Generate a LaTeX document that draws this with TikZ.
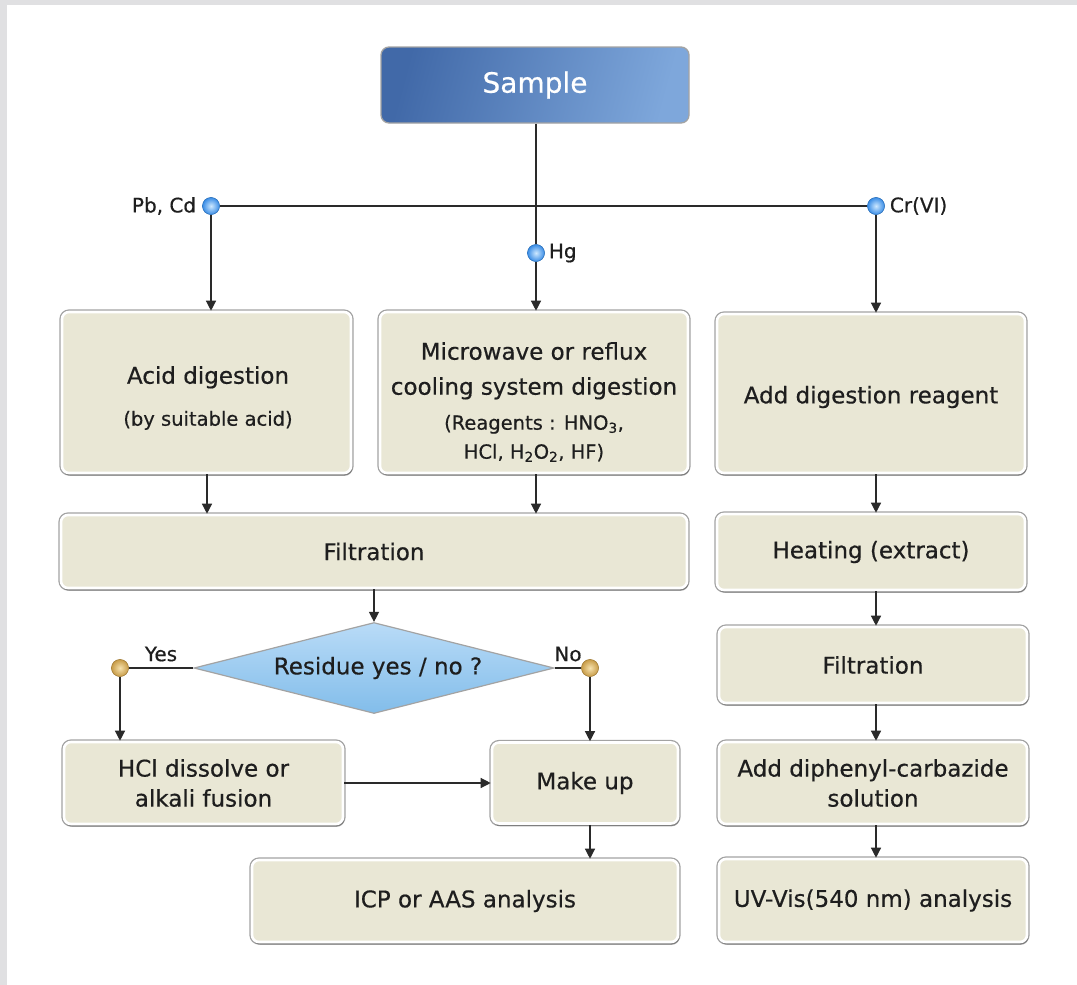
\documentclass[tikz,border=0pt]{standalone}
\usepackage{fontspec}
\setmainfont{DejaVu Sans}[FakeBold=0.5]
\usetikzlibrary{arrows.meta,shapes.geometric,shadows,calc}
\definecolor{boxfill}{HTML}{E9E7D5}
\definecolor{boxedge}{HTML}{A3A3A3}
\definecolor{txt}{HTML}{1E1E1E}
\definecolor{lin}{HTML}{2A2A2A}
\definecolor{bgray}{HTML}{E0E0E2}
\definecolor{sdark}{HTML}{4169A8}
\definecolor{slight}{HTML}{7EA7DB}
\definecolor{dbin}{HTML}{CDE8FF}
\definecolor{dbout}{HTML}{3A8DE6}
\definecolor{dgin}{HTML}{F6E2AE}
\definecolor{dgout}{HTML}{C89C48}
\definecolor{diatop}{HTML}{B9DBF7}
\definecolor{diabot}{HTML}{82BDEA}
\newcommand\fmain{\fontsize{23}{35}\selectfont}
\newcommand\fsmall{\fontsize{19.5}{30}\selectfont}
\newcommand\flab{\fontsize{20}{24}\selectfont}
\tikzset{
  box/.style={rectangle, rounded corners=7pt, fill=boxfill, draw=white, line width=2.6pt,
    preaction={draw=boxedge, line width=5.2pt, rounded corners=7pt},
    drop shadow={shadow xshift=1.2pt, shadow yshift=-2.8pt, opacity=.22, fill=black},
    align=center, font=\fmain, text=txt, inner sep=2pt},
  boxtext/.style={align=center, font=\fmain, text=txt, inner sep=0pt},
  conn/.style={draw=lin, line width=1.3pt},
  arr/.style={conn, -{Triangle[length=10pt,width=10pt]}},
  bdot/.style={circle, minimum size=17pt, inner sep=0, draw=dbout!80!black, line width=.4pt,
    inner color=dbin, outer color=dbout},
  gdot/.style={circle, minimum size=17pt, inner sep=0, draw=dgout!80!black, line width=.4pt,
    inner color=dgin, outer color=dgout},
  lab/.style={font=\flab, text=txt, inner sep=2pt}
}
\begin{document}
\begin{tikzpicture}[x=1pt,y=-1pt]
\useasboundingbox (0,0) rectangle (1077,985);
\fill[bgray] (0,0) rectangle (1077,985);
\fill[white] (7,5) rectangle (1077,985);

\node[rectangle, rounded corners=8pt, left color=sdark, right color=slight, shading angle=75,
  draw=boxedge, line width=1.3pt, minimum width=308pt, minimum height=76pt, text=white,
  font=\fontsize{28}{32}\selectfont] (sample) at (535,85) {Sample};

\node[box, minimum width=289pt, minimum height=161pt] (acid) at (206.5,392.5) {};
\node[boxtext] (acidt) at (208,398) {Acid digestion\\[7pt]{\fsmall (by suitable acid)}};
\node[box, minimum width=308pt, minimum height=161pt] (micro) at (534,392.5) {};
\node[boxtext] (microt) at (534,402) {Microwave or reflux\\cooling system digestion\\[0pt]
   {\fsmall (Reagents : HNO\textsubscript{3},}\\[-6pt]{\fsmall HCl, H\textsubscript{2}O\textsubscript{2}, HF)}};
\node[box, minimum width=308pt, minimum height=159pt] (reag) at (871,393.5) {};
\node[boxtext] (reagt) at (871,397) {Add digestion reagent};
\node[box, minimum width=626pt, minimum height=73pt] (filt1) at (374,551.5) {Filtration};
\node[box, minimum width=308pt, minimum height=76pt] (heat) at (871,552) {Heating (extract)};
\node[box, minimum width=308pt, minimum height=76pt] (filt2) at (873,665) {Filtration};
\node[diamond, minimum width=360pt, minimum height=91pt, inner sep=0, aspect=4,
  top color=diatop, bottom color=diabot, draw=boxedge, line width=1.2pt] (dia) at (374,668) {};
\node[boxtext] (diat) at (378,668) {Residue yes / no ?};
\node[box, minimum width=279pt, minimum height=82pt, font=\fontsize{23}{30}\selectfont] (hcl) at (203.5,783)
  {HCl dissolve or\\alkali fusion};
\node[box, minimum width=186pt, minimum height=81pt] (makeup) at (585,783) {Make up};
\node[box, minimum width=426pt, minimum height=82pt] (icp) at (465,901) {ICP or AAS analysis};
\node[box, minimum width=308pt, minimum height=82pt, font=\fontsize{23}{30}\selectfont] (diph) at (873,783)
  {Add diphenyl-carbazide\\solution};
\node[box, minimum width=308pt, minimum height=83pt] (uv) at (873,900.5) {UV-Vis(540 nm) analysis};

% junction dots
\node[bdot] (pbcd) at (211,206) {};
\node[bdot] (cr) at (876,206) {};
\node[bdot] (hg) at (536,253) {};
\node[gdot] (yes) at (120,668) {};
\node[gdot] (no) at (590,668) {};

% connectors
\draw[conn] (pbcd) -- (cr);
\draw[conn] (sample.south -| hg) -- (hg);
\draw[arr] (pbcd) -- (pbcd |- acid.north);
\draw[arr] (hg) -- (hg |- micro.north);
\draw[arr] (cr) -- (cr |- reag.north);
\draw[arr] (pbcd |- acid.south) ++(-4,0) coordinate (a1) -- (a1 |- filt1.north);
\draw[arr] (hg |- micro.south) -- (hg |- filt1.north);
\draw[arr] (cr |- reag.south) -- (cr |- heat.north);
\draw[arr] (cr |- heat.south) -- (cr |- filt2.north);
\draw[arr] (cr |- filt2.south) -- (cr |- diph.north);
\draw[arr] (cr |- diph.south) -- (cr |- uv.north);
\draw[arr] (filt1.south) -- (dia.north);
\draw[conn] (dia.west) -- (yes);
\draw[conn] (dia.east) -- (no);
\draw[arr] (yes) -- (yes |- hcl.north);
\draw[arr] (no) -- (no |- makeup.north);
\draw[arr] (hcl.east) -- (makeup.west);
\draw[arr] (no |- makeup.south) -- (no |- icp.north);

% dots on top of the lines
\node[bdot] at (pbcd) {};
\node[bdot] at (cr) {};
\node[bdot] at (hg) {};
\node[gdot] at (yes) {};
\node[gdot] at (no) {};

% labels
\node[lab, anchor=east] (lpb) at ([xshift=-4pt]pbcd.west) {Pb, Cd};
\node[lab, anchor=west] (lcr) at ([xshift=3pt]cr.east) {Cr(VI)};
\node[lab, anchor=west] (lhg) at ([xshift=2pt]hg.east) {Hg};
\node[lab] (lyes) at (161,654) {Yes};
\node[lab] (lno) at (568,654) {No};
\end{tikzpicture}
\end{document}
